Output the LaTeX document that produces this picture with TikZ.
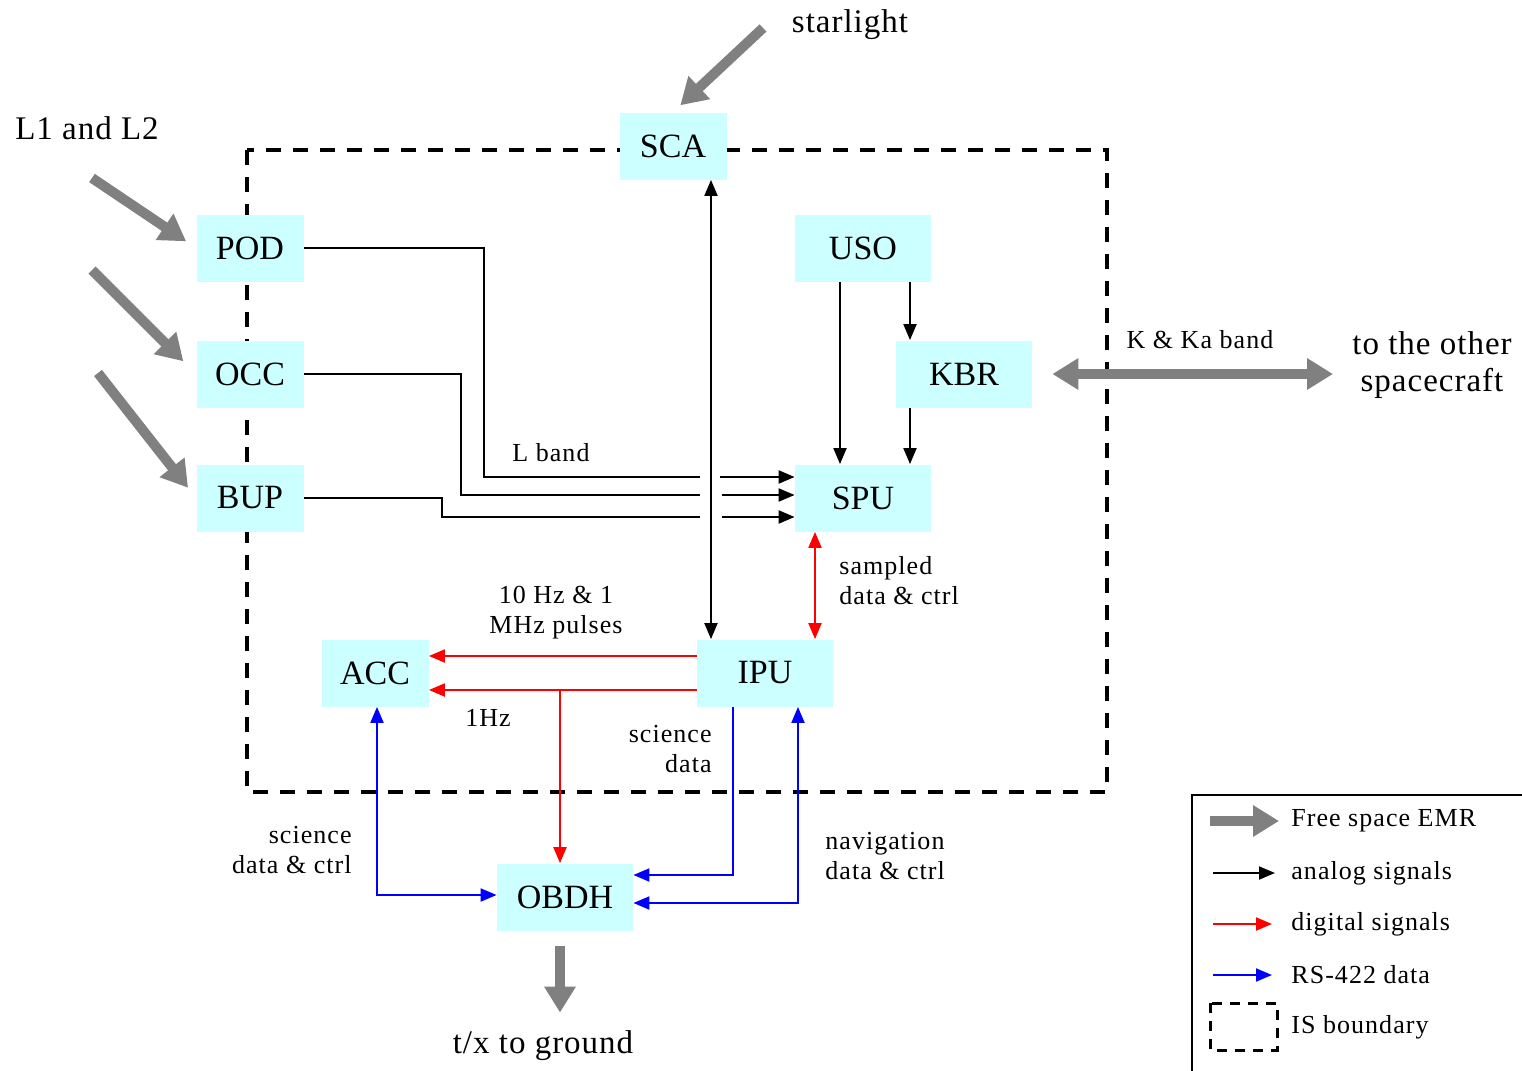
\documentclass[tikz,border=0pt]{standalone}
\usepackage{fontspec}
\setmainfont{Liberation Serif}
\usetikzlibrary{arrows.meta,calc}
\definecolor{boxfill}{HTML}{CCFFFF}
\definecolor{emrgrey}{HTML}{808080}
\definecolor{digred}{HTML}{FF0000}
\definecolor{rsblue}{HTML}{0000FF}
\tikzset{
  unit/.style={fill=boxfill,minimum height=33.5pt,minimum width=53.5pt,inner sep=0pt,
               font=\fontsize{17}{19}\selectfont},
  wideunit/.style={unit,minimum width=68pt},
  emr/.style={emrgrey,line width=5pt,>={Triangle[length=13pt,width=15pt]},->},
  wire/.style={black,line width=1pt},
  ana/.style={wire,>={Triangle[length=8pt,width=6.5pt]},->},
  dig/.style={ana,digred},
  rs/.style={ana,rsblue},
  lbl/.style={font=\fontsize{13}{15}\selectfont\addfontfeatures{LetterSpace=4},inner sep=0pt,align=center},
  biglbl/.style={font=\fontsize{16.5}{18.5}\selectfont\addfontfeatures{LetterSpace=3},inner sep=0pt,align=center},
  boundary/.style={line width=2pt,dash pattern=on 7.5pt off 6pt}
}

\begin{document}
\begin{tikzpicture}[x=0.5pt,y=-0.5pt]
  \useasboundingbox (0,0) rectangle (1522,1071);
  % instrument system boundary
  \draw[boundary] (247,150) rectangle (1107,792);
  % units
  \node[unit] (SCA) at (673,146) {SCA};
  \node[unit] (POD) at (250,248) {POD};
  \node[unit] (OCC) at (250,374) {OCC};
  \node[unit] (BUP) at (250,498) {BUP};
  \node[wideunit] (USO) at (863,248) {USO};
  \node[wideunit] (KBR) at (964,374) {KBR};
  \node[wideunit] (SPU) at (863,498) {SPU};
  \node[unit] (ACC) at (375,673) {ACC};
  \node[wideunit] (IPU) at (765,673) {IPU};
  \node[wideunit] (OBDH) at (565,897) {OBDH};
  % outside texts
  \node[biglbl] (star) at (850,25) {starlight};
  \node[biglbl] (gnss) at (87,128) {L1 and L2};
  \node[biglbl] (other) at (1432,365) {to the other\\spacecraft};
  \node[biglbl] (ground) at (543,1046) {t/x to ground};
  % free space EMR
  \coordinate (in1) at (92,178);
  \coordinate (in2) at (92,270);
  \coordinate (in3) at (98,373);
  \coordinate (sl) at (763,28);
  \coordinate (g) at (560,0);
  \draw[emr,shorten >=6pt] (in1) -- (POD.west);
  \draw[emr,shorten >=9pt] (in2) -- (OCC.west);
  \draw[emr,shorten >=6.5pt] (in3) -- (BUP.west);
  \draw[emr,shorten >=5pt] (sl) -- (SCA.north);
  \draw[emr,<->,shorten <=10pt,shorten >=9.5pt] (KBR.east) -- (other.west |- KBR.east);
  \draw[emr,shorten <=7.5pt,shorten >=9pt] (OBDH.south -| g) -- (ground.north -| g);
  \node[lbl] (kband) at (1200,340) {K \& Ka band};
  % analog signals
  \coordinate (podend) at (700,477);
  \coordinate (occend) at (700,495);
  \coordinate (bupend) at (700,517);
  \coordinate (podgap) at (720,477);
  \coordinate (occgap) at (722,495);
  \coordinate (bupgap) at (722,517);
  \draw[wire] (POD.east) -| (484,477) -- (podend);
  \draw[wire] (OCC.east) -| (461,495) -- (occend);
  \draw[wire] (BUP.east) -| (442,517) -- (bupend);
  \draw[ana] (podgap) -- (SPU.west |- podgap);
  \draw[ana] (occgap) -- (SPU.west |- occgap);
  \draw[ana] (bupgap) -- (SPU.west |- bupgap);
  \node[lbl] (lband) at (551,453) {L band};
  \coordinate (v) at (711,0);
  \coordinate (u) at (840,0);
  \coordinate (k) at (910,0);
  \draw[ana,<->] (SCA.south -| v) -- (IPU.north -| v);
  \draw[ana] (USO.south -| u) -- (SPU.north -| u);
  \draw[ana] (USO.south -| k) -- (KBR.north -| k);
  \draw[ana] (KBR.south -| k) -- (SPU.north -| k);
  % digital signals
  \coordinate (r) at (815,0);
  \coordinate (h1) at (0,656);
  \coordinate (h2) at (0,690);
  \coordinate (split) at (560,690);
  \draw[dig,<->] (SPU.south -| r) -- (IPU.north -| r);
  \draw[dig] (IPU.west |- h1) -- (ACC.east |- h1);
  \draw[dig] (IPU.west |- h2) -- (ACC.east |- h2);
  \draw[dig] (split) -- (OBDH.north -| split);
  \node[lbl,align=left,anchor=west] (sampled) at (839,581) {sampled\\data \& ctrl};
  \node[lbl] (pulses) at (556,613) {10 Hz \& 1\\MHz pulses};
  \node[lbl] (onehz) at (488,718) {1Hz};
  % RS-422 data
  \coordinate (b1) at (733,875);
  \coordinate (b2) at (798,903);
  \coordinate (b3) at (377,895);
  \draw[rs] (IPU.south -| b1) |- (OBDH.east |- b1);
  \draw[rs,<->] (OBDH.east |- b2) -| (IPU.south -| b2);
  \draw[rs,<->] (ACC.south -| b3) |- (OBDH.west |- b3);
  \node[lbl,align=right,anchor=east] (scidata) at (712,749) {science\\data};
  \node[lbl,align=right,anchor=east] (accdata) at (352,850) {science\\data \& ctrl};
  \node[lbl,align=left,anchor=west] (navdata) at (825,856) {navigation\\data \& ctrl};
  % legend
  \draw[line width=0.8pt] (1522,795) -- (1192,795) -- (1192,1071);
  \node[lbl,anchor=west] (legemr) at (1291,821) {Free space EMR};
  \node[lbl,anchor=west] (legana) at (1291,873) {analog signals};
  \node[lbl,anchor=west] (legdig) at (1291,924) {digital signals};
  \node[lbl,anchor=west] (legrs) at (1291,975) {RS-422 data};
  \node[lbl,anchor=west] (legis) at (1291,1027) {IS boundary};
  \draw[emr] ($(legemr.west)+(-81,0)$) -- ($(legemr.west)+(-12,0)$);
  \draw[ana] ($(legana.west)+(-78,0)$) -- ($(legana.west)+(-16,0)$);
  \draw[dig] ($(legdig.west)+(-78,0)$) -- ($(legdig.west)+(-19,0)$);
  \draw[rs] ($(legrs.west)+(-78,0)$) -- ($(legrs.west)+(-19,0)$);
  \draw[boundary,line width=1.5pt,dash pattern=on 5pt off 4pt]
    ($(legis.west)+(-81,-24)$) rectangle ($(legis.west)+(-14,23)$);
\end{tikzpicture}
\end{document}
